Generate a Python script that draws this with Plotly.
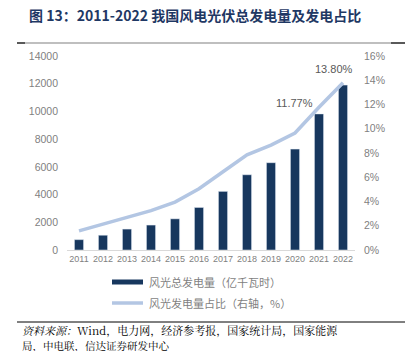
import plotly.graph_objects as go

years = ["2011", "2012", "2013", "2014", "2015", "2016", "2017", "2018", "2019", "2020", "2021", "2022"]
generation = [747, 1066, 1510, 1800, 2250, 3070, 4230, 5430, 6300, 7280, 9820, 11900]
share = [1.58, 2.14, 2.75, 3.25, 3.95, 5.05, 6.45, 7.85, 8.65, 9.65, 11.77, 13.80]
left_ticks = [0, 2000, 4000, 6000, 8000, 10000, 12000, 14000]
right_ticks = [0, 2, 4, 6, 8, 10, 12, 14, 16]
labelled = {"2021": "11.77%", "2022": "13.80%"}

NAVY = "#17375e"
LIGHT = "#b3c6e3"
GRAY = "#7f7f7f"
FONT = "Liberation Sans Narrow, Liberation Sans, Arial"

fig = go.Figure()
fig.add_trace(go.Bar(x=years, y=generation, marker_color=NAVY, width=0.38,
                     name="风光总发电量（亿千瓦时）", yaxis="y"))
fig.add_trace(go.Scatter(x=years, y=share, mode="lines", line=dict(color=LIGHT, width=3.5),
                         name="风光发电量占比（右轴，%）", yaxis="y2"))

for yr, txt in labelled.items():
    i = years.index(yr)
    fig.add_annotation(x=i, y=share[i], xref="x", yref="y2", text=txt, showarrow=False,
                       xanchor="right", yanchor="bottom", xshift=-4 if yr == "2021" else 12,
                       yshift=-4 if yr == "2021" else 6,
                       font=dict(size=11, color="#595959", family=FONT))

fig.update_layout(
    width=416, height=351,
    margin=dict(l=67, r=61, t=56, b=101),
    paper_bgcolor="white", plot_bgcolor="white",
    showlegend=False,
    xaxis=dict(type="category", range=[-0.5, len(years) - 0.5], autorange=False,
               showline=True, linecolor="#d9d9d9", linewidth=1, ticks="", tickangle=0,
               tickfont=dict(size=9, color=GRAY, family=FONT), showgrid=False),
    yaxis=dict(range=[0, 14000], tickvals=left_ticks, ticktext=[str(v) for v in left_ticks],
               showgrid=False, zeroline=False,
               tickfont=dict(size=10.5, color=GRAY, family=FONT), ticklabelstandoff=8),
    yaxis2=dict(range=[0, 16], tickvals=right_ticks, ticktext=[f"{v}%" for v in right_ticks],
                overlaying="y", side="right", showgrid=False, zeroline=False,
                tickfont=dict(size=10.5, color=GRAY, family=FONT), ticklabelstandoff=8),
)

def px_x(px):
    return (px - 67) / 288

def px_y(py):
    return (250 - py) / 194

fig.add_annotation(x=px_x(27), y=px_y(15), xref="paper", yref="paper",
                   text="<b>图 13：2011-2022 我国风电光伏总发电量及发电占比</b>",
                   showarrow=False, xanchor="left", yanchor="middle",
                   font=dict(size=14, color="#1f3864", family="Noto Sans CJK SC"))

shapes = [
    dict(type="line", xref="paper", yref="paper", x0=px_x(17), x1=px_x(405), y0=px_y(43), y1=px_y(43),
         line=dict(color="#bfbfbf", width=2)),
    dict(type="line", xref="paper", yref="paper", x0=px_x(17), x1=px_x(25), y0=px_y(43), y1=px_y(43),
         line=dict(color="#595959", width=2)),
    dict(type="line", xref="paper", yref="paper", x0=px_x(391), x1=px_x(405), y0=px_y(43), y1=px_y(43),
         line=dict(color="#595959", width=2)),
    dict(type="line", xref="paper", yref="paper", x0=px_x(112), x1=px_x(143), y0=px_y(282), y1=px_y(282),
         line=dict(color=NAVY, width=5)),
    dict(type="line", xref="paper", yref="paper", x0=px_x(112), x1=px_x(143), y0=px_y(303), y1=px_y(303),
         line=dict(color=LIGHT, width=3.5)),
    dict(type="line", xref="paper", yref="paper", x0=px_x(17), x1=px_x(405), y0=px_y(322), y1=px_y(322),
         line=dict(color="#000000", width=1)),
]
fig.update_layout(shapes=shapes)

legend_names = ["风光总发电量（亿千瓦时）", "风光发电量占比（右轴，%）"]
for name, py in zip(legend_names, [282, 303]):
    fig.add_annotation(x=px_x(147), y=px_y(py), xref="paper", yref="paper", text=name, showarrow=False,
                       xanchor="left", yanchor="middle",
                       font=dict(size=11, color="#7f7f7f", family="Noto Sans CJK SC"))

fig.add_annotation(x=px_x(20), y=px_y(330), xref="paper", yref="paper", yanchor="middle",
                   text="<i>资料来源：</i>Wind，电力网，经济参考报，国家统计局，国家能源",
                   showarrow=False, xanchor="left", align="left",
                   font=dict(size=11, color="#000000", family="Noto Serif CJK SC, Noto Sans CJK SC"))
fig.add_annotation(x=px_x(20), y=px_y(345), xref="paper", yref="paper", yanchor="middle",
                   text="局，中电联，信达证券研发中心",
                   showarrow=False, xanchor="left", align="left",
                   font=dict(size=10.5, color="#000000", family="Noto Serif CJK SC, Noto Sans CJK SC"))

fig.write_html("out.html")
